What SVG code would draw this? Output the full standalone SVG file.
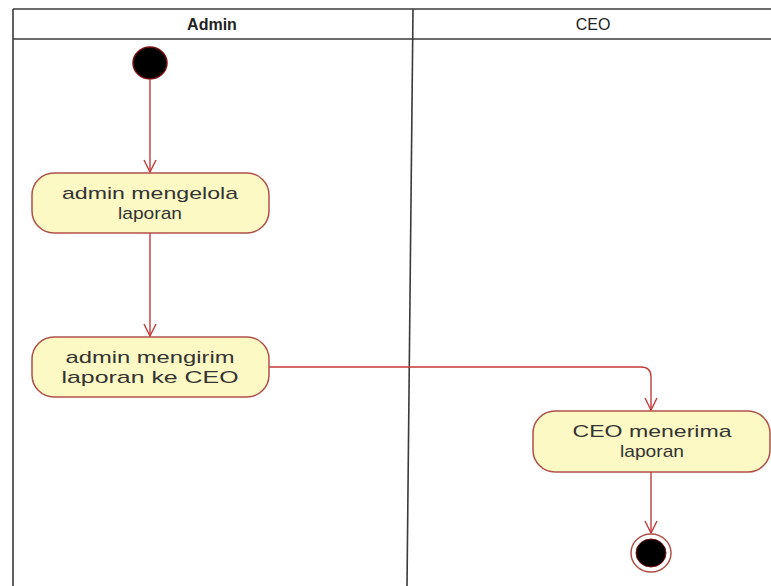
<svg xmlns="http://www.w3.org/2000/svg" width="771" height="586" viewBox="0 0 771 586">
  <style>
    .lane { stroke: #3a3a3a; stroke-width: 1.6; fill: none; }
    .lane-title { font-family: "Liberation Sans", Arial, sans-serif; font-size: 16px; fill: #222; text-anchor: middle; }
    .action { fill: #fdf9c4; stroke: #b0504a; stroke-width: 1.5; }
    .label { font-family: "Liberation Sans", Arial, sans-serif; font-size: 17px; fill: #333; text-anchor: middle; }
    .flow { stroke: #c43a3a; stroke-width: 1.4; fill: none; }
    .head { stroke: #c43a3a; stroke-width: 1.4; fill: none; }
  </style>
  <defs>
    <marker id="open-arrow" viewBox="0 0 14 14" refX="13" refY="7" markerWidth="14" markerHeight="14" markerUnits="userSpaceOnUse" orient="auto">
      <path class="head" d="M1,1 L13,7 L1,13"/>
    </marker>
  </defs>

  <rect width="771" height="586" fill="#ffffff"/>

  <!-- swimlanes -->
  <g id="lanes">
    <line class="lane" x1="13" y1="9" x2="771" y2="9"/>
    <line class="lane" x1="13" y1="39" x2="771" y2="39"/>
    <line class="lane" x1="13" y1="9" x2="13" y2="586"/>
    <line class="lane" x1="413" y1="9" x2="407" y2="586"/>
    <text class="lane-title" x="212" y="30" font-weight="bold">Admin</text>
    <text class="lane-title" x="593" y="30">CEO</text>
  </g>

  <!-- control flow -->
  <g id="connectors">
    <line class="flow" x1="150" y1="80" x2="150" y2="172" marker-end="url(#open-arrow)"/>
    <line class="flow" x1="150" y1="233" x2="150" y2="336" marker-end="url(#open-arrow)"/>
    <path class="flow" d="M269,367 L641,367 Q651,367 651,377 L651,410" marker-end="url(#open-arrow)"/>
    <line class="flow" x1="651" y1="472" x2="651" y2="533" marker-end="url(#open-arrow)"/>
  </g>

  <g id="start">
    <ellipse cx="150" cy="63" rx="17" ry="16" fill="#000" stroke="#7a1010" stroke-width="1.5"/>
  </g>

  <g id="mengelola">
    <rect class="action" x="32" y="173" width="237" height="60" rx="22" ry="22"/>
    <text class="label" x="150" y="199" textLength="176" lengthAdjust="spacingAndGlyphs">admin mengelola</text>
    <text class="label" x="150" y="219" textLength="64" lengthAdjust="spacingAndGlyphs">laporan</text>
  </g>

  <g id="mengirim">
    <rect class="action" x="32" y="337" width="237" height="60" rx="22" ry="22"/>
    <text class="label" x="150" y="363" textLength="169" lengthAdjust="spacingAndGlyphs">admin mengirim</text>
    <text class="label" x="150" y="383" textLength="177" lengthAdjust="spacingAndGlyphs">laporan ke CEO</text>
  </g>

  <g id="menerima">
    <rect class="action" x="533" y="411" width="237" height="61" rx="22" ry="22"/>
    <text class="label" x="652" y="437" textLength="159" lengthAdjust="spacingAndGlyphs">CEO menerima</text>
    <text class="label" x="652" y="457" textLength="64" lengthAdjust="spacingAndGlyphs">laporan</text>
  </g>

  <g id="end">
    <ellipse cx="651" cy="553" rx="20" ry="19" fill="#fff" stroke="#b0504a" stroke-width="1.5"/>
    <ellipse cx="651" cy="553" rx="15" ry="14" fill="#000" stroke="#7a1010" stroke-width="1"/>
  </g>
</svg>
